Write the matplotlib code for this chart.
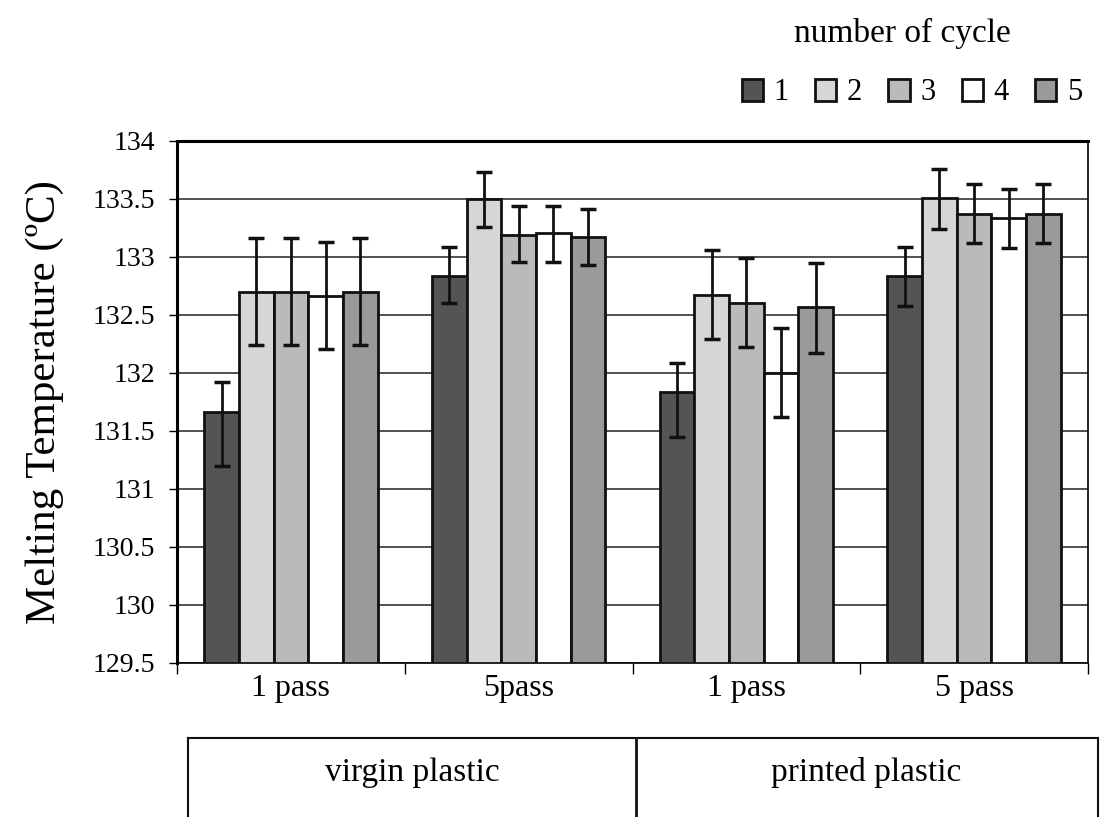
import matplotlib
matplotlib.use("Agg")
import matplotlib.pyplot as plt
import numpy as np
from matplotlib.lines import Line2D

# ---- data ----
pass_labels = ["1 pass", "5pass", "1 pass", "5 pass"]
group_labels = ["virgin plastic", "printed plastic"]
cycles = ["1", "2", "3", "4", "5"]
# mean melting temperature per cycle (rows) for each category (columns)
cycle1 = [131.66, 132.84, 131.84, 132.84]
cycle2 = [132.70, 133.50, 132.67, 133.51]
cycle3 = [132.70, 133.19, 132.60, 133.37]
cycle4 = [132.66, 133.21, 132.00, 133.34]
cycle5 = [132.70, 133.17, 132.57, 133.37]
# error bar upper and lower ends
upper1 = [131.92, 133.09, 132.09, 133.09]
lower1 = [131.20, 132.60, 131.45, 132.58]
upper2 = [133.16, 133.73, 133.06, 133.76]
lower2 = [132.24, 133.26, 132.29, 133.24]
upper3 = [133.16, 133.44, 132.99, 133.63]
lower3 = [132.24, 132.96, 132.22, 133.12]
upper4 = [133.13, 133.44, 132.39, 133.59]
lower4 = [132.21, 132.96, 131.62, 133.08]
upper5 = [133.16, 133.41, 132.95, 133.63]
lower5 = [132.24, 132.93, 132.17, 133.12]

means = [cycle1, cycle2, cycle3, cycle4, cycle5]
uppers = [upper1, upper2, upper3, upper4, upper5]
lowers = [lower1, lower2, lower3, lower4, lower5]

colors = ["#545454", "#d6d6d6", "#bababa", "#ffffff", "#9a9a9a"]

plt.rcParams['font.family'] = ['Liberation Serif', 'DejaVu Serif']

fig = plt.figure(figsize=(11.02, 8.17), dpi=100)
ax = fig.add_axes([177/1102, 1-663/817, (1088-177)/1102, (663-141)/817])

x = np.arange(len(pass_labels))
w = 1/6.57
bars = []
for i in range(5):
    m = np.array(means[i])
    up = np.array(uppers[i]) - m
    lo = m - np.array(lowers[i])
    xs = x + (i-2)*w
    b = ax.bar(xs, m - 129.5, bottom=129.5, width=w, color=colors[i],
               edgecolor="#111111", linewidth=2, zorder=3, label=cycles[i])
    ax.errorbar(xs, m, yerr=[lo, up], fmt="none", ecolor="#111111",
                elinewidth=2, capsize=6, capthick=2.5, zorder=4)
    bars.append(b)

ax.set_xlim(-0.5, 3.5)
ax.set_ylim(129.5, 134)
ax.set_yticks(np.arange(129.5, 134.01, 0.5))
ax.set_yticklabels([("%g" % v) for v in np.arange(129.5, 134.01, 0.5)], fontsize=20)
ax.yaxis.grid(True, color="#333333", linewidth=1.2, zorder=0)
ax.set_axisbelow(True)

ax.set_xticks(np.arange(-0.5, 3.51, 1.0))
ax.set_xticklabels([])
ax.set_xticks(x, minor=True)
ax.set_xticklabels(pass_labels, minor=True, fontsize=23)
ax.tick_params(axis="x", which="minor", length=0, pad=8)
ax.tick_params(axis="x", which="major", length=8, width=1, direction="out")
ax.tick_params(axis="y", length=6, width=1, direction="out", pad=10)

for s in ["left", "top"]:
    ax.spines[s].set_linewidth(2.2)
ax.spines["right"].set_linewidth(1.2)
ax.spines["bottom"].set_linewidth(1.2)

ax.set_ylabel("Melting Temperature (ºC)", fontsize=31, labelpad=20)

# legend
fig.text(902/1102, 1-33/817, "number of cycle", fontsize=24, ha="center", va="center")
leg = fig.legend(handles=bars, labels=cycles, ncol=5, frameon=False,
                 loc="center", bbox_to_anchor=(912/1102, 1-93/817),
                 fontsize=22, handlelength=0.7, handleheight=0.7,
                 handletextpad=0.35, columnspacing=0.85,
                 borderpad=0.1, borderaxespad=0)
for h in leg.legend_handles:
    h.set_linewidth(2)

# group table at bottom
y_top = 1-738/817
fig.add_artist(Line2D([188/1102, 1098/1102], [y_top, y_top], color="#111111", lw=1.5))
fig.add_artist(Line2D([188/1102, 188/1102], [y_top, 0], color="#111111", lw=1.5))
fig.add_artist(Line2D([1098/1102, 1098/1102], [y_top, 0], color="#111111", lw=1.5))
fig.add_artist(Line2D([636/1102, 636/1102], [y_top, 0], color="#111111", lw=2))
fig.text(412/1102, 1-773/817, group_labels[0], fontsize=24, ha="center", va="center")
fig.text(866/1102, 1-773/817, group_labels[1], fontsize=24, ha="center", va="center")

fig.savefig("out.png", dpi=100)
